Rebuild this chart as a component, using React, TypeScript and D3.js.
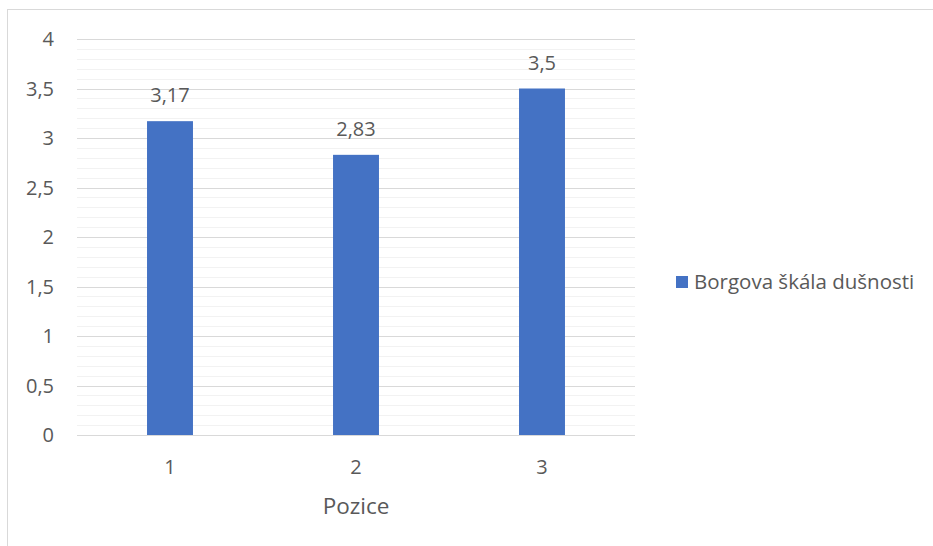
import React from "react";
import * as d3 from "d3";

const categories = ["1", "2", "3"];
const values = [3.17, 2.83, 3.5];
const valueLabels = ["3,17", "2,83", "3,5"];
const yTicks = [0, 0.5, 1, 1.5, 2, 2.5, 3, 3.5, 4];
const seriesName = "Borgova škála dušnosti";
const xTitle = "Pozice";

const W = 933;
const H = 546;
const left = 77;
const right = 635;
const top = 39;
const bottom = 435;
const font = "'Open Sans', 'Liberation Sans', sans-serif";
const textColor = "#595959";
const barColor = "#4472C4";

export default function App() {
  const x = d3.scaleBand<string>().domain(categories).range([left, right]).paddingInner(0.753).paddingOuter(0.3765);
  const y = d3.scaleLinear().domain([0, 4]).range([bottom, top]);
  const minor = d3.range(0, 40).map((i) => i / 10).filter((v) => Math.round(v * 10) % 5 !== 0);
  const fmt = (v: number) => String(v).replace(".", ",");
  return (
    <svg width={W} height={H} style={{ position: "absolute", left: 0, top: 0, background: "#fff" }}>
      <rect x={7.5} y={9.5} width={W} height={H} fill="#fff" stroke="#d9d9d9" strokeWidth={1} />
      {minor.map((v) => (
        <line key={"m" + v} x1={left} x2={right} y1={Math.round(y(v)) + 0.5} y2={Math.round(y(v)) + 0.5} stroke="#f2f2f2" strokeWidth={1} />
      ))}
      {yTicks.map((v) => (
        <line key={"g" + v} x1={left} x2={right} y1={Math.round(y(v)) + 0.5} y2={Math.round(y(v)) + 0.5} stroke="#d9d9d9" strokeWidth={1} />
      ))}
      {yTicks.map((v) => (
        <text key={"t" + v} x={54} y={y(v)} dy="0.35em" textAnchor="end" fontFamily={font} fontSize={20} fill={textColor}>
          {fmt(v)}
        </text>
      ))}
      {categories.map((c, i) => (
        <g key={c}>
          <rect x={x(c)} y={y(values[i])} width={x.bandwidth()} height={y(0) - y(values[i])} fill={barColor} />
          <text x={(x(c) as number) + x.bandwidth() / 2} y={y(values[i]) - 19} textAnchor="middle" fontFamily={font} fontSize={20} fill={textColor}>
            {valueLabels[i]}
          </text>
          <text x={(x(c) as number) + x.bandwidth() / 2} y={474} textAnchor="middle" fontFamily={font} fontSize={20} fill={textColor}>
            {c}
          </text>
        </g>
      ))}
      <text x={(left + right) / 2} y={514} textAnchor="middle" fontFamily={font} fontSize={22.5} fill={textColor}>
        {xTitle}
      </text>
      <rect x={676} y={276} width={12} height={12} fill={barColor} />
      <text x={694} y={289} fontFamily={font} fontSize={20.5} fill={textColor}>
        {seriesName}
      </text>
    </svg>
  );
}
